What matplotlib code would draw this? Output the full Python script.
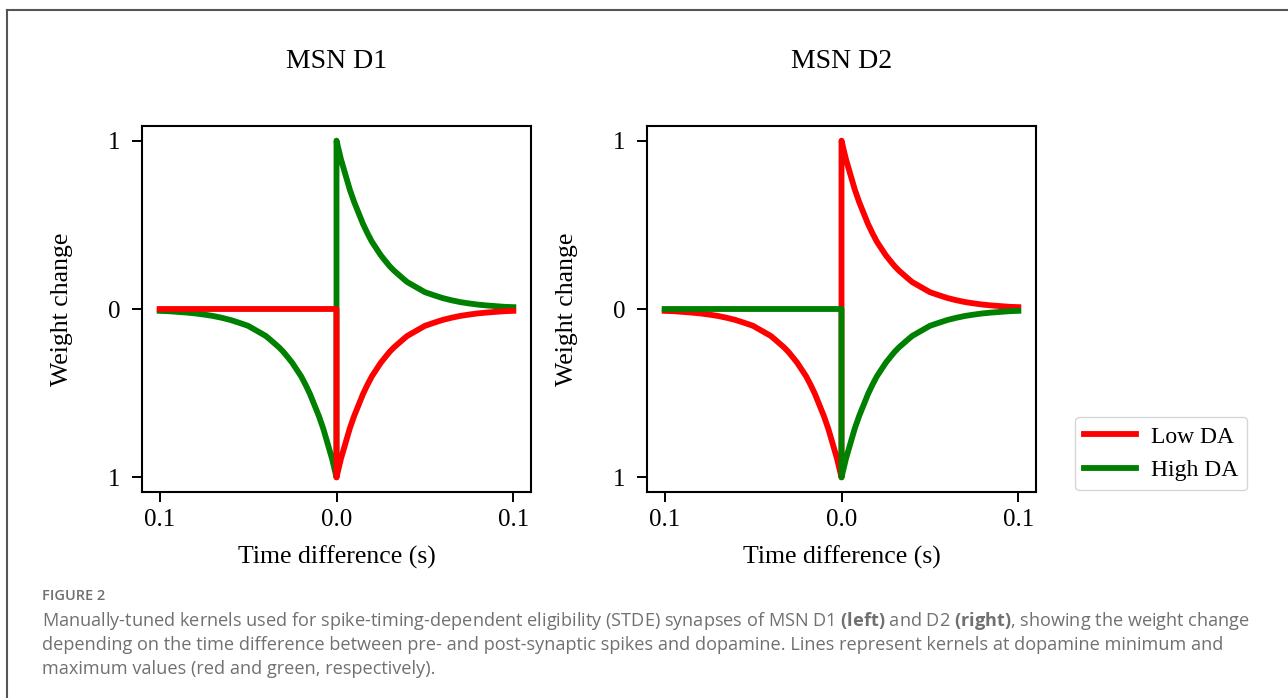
import matplotlib
matplotlib.use("Agg")
import matplotlib.pyplot as plt
from matplotlib.lines import Line2D

# kernel magnitude (t >= 0, seconds)
time_pos = [0.0, 0.0025, 0.005, 0.0075, 0.01, 0.0125, 0.015, 0.0175, 0.02,
            0.0225, 0.025, 0.0275, 0.03, 0.0325, 0.035, 0.0375, 0.04,
            0.0425, 0.045, 0.0475, 0.05, 0.055, 0.06, 0.065, 0.07, 0.075,
            0.08, 0.085, 0.09, 0.095, 0.1]
kernel_mag = [1.0, 0.89, 0.80, 0.71, 0.635, 0.57, 0.505, 0.45, 0.40,
              0.36, 0.32, 0.287, 0.255, 0.228, 0.205, 0.182, 0.16,
              0.145, 0.13, 0.115, 0.10, 0.082, 0.065, 0.052, 0.041, 0.033,
              0.026, 0.021, 0.017, 0.013, 0.011]
flat_time = [-0.1, 0.0]
flat_val = [0.0, 0.0]

panels = ["MSN D1", "MSN D2"]
series_names = ["Low DA", "High DA"]
series_colors = ["red", "green"]
xticks = [-0.1, 0.0, 0.1]
xtick_labels = ["0.1", "0.0", "0.1"]
yticks = [1, 0, -1]
ytick_labels = ["1", "0", "1"]

caption_head = "FIGURE 2"
caption_lines = [
    r"Manually-tuned kernels used for spike-timing-dependent eligibility (STDE) synapses of MSN D1 $\mathbf{(left)}$ and D2 $\mathbf{(right)}$, showing the weight change",
    "depending on the time difference between pre- and post-synaptic spikes and dopamine. Lines represent kernels at dopamine minimum and",
    "maximum values (red and green, respectively).",
]

# flat-then-negative kernel and negative-then-positive kernel
neg_time = [-t for t in reversed(time_pos)]
flat_x = flat_time + time_pos
flat_y = flat_val + [-k for k in kernel_mag]
cross_x = neg_time + time_pos
cross_y = [-k for k in reversed(kernel_mag)] + kernel_mag

plt.rcParams["font.family"] = "Liberation Serif"
plt.rcParams["mathtext.fontset"] = "custom"
plt.rcParams["mathtext.rm"] = "Open Sans"
plt.rcParams["mathtext.bf"] = "Open Sans:bold"

W, H = 1288, 698
fig = plt.figure(figsize=(W / 100, H / 100), dpi=100)

lw = 4.2
axes_left = [142, 647]
for i, name in enumerate(panels):
    ax = fig.add_axes([axes_left[i] / W, 1 - 492 / H, 389 / W, 366 / H])
    if i == 0:
        # D1: low DA is the flat one
        ax.plot(cross_x, cross_y, color=series_colors[1], lw=lw, zorder=2)
        ax.plot(flat_x, flat_y, color=series_colors[0], lw=lw, zorder=3)
    else:
        # D2: colours swap
        ax.plot(cross_x, cross_y, color=series_colors[0], lw=lw, zorder=2)
        ax.plot(flat_x, flat_y, color=series_colors[1], lw=lw, zorder=3)
    ax.set_xlim(-0.11, 0.11)
    ax.set_ylim(-1.087, 1.087)
    ax.set_xticks(xticks)
    ax.set_xticklabels(xtick_labels)
    ax.set_yticks(yticks)
    ax.set_yticklabels(ytick_labels)
    ax.tick_params(length=7.5, width=1.4, labelsize=18, pad=5)
    ax.tick_params(axis="y", pad=8)
    for s in ax.spines.values():
        s.set_linewidth(1.5)
    ax.set_title(name, fontsize=20, pad=42)
    cx = (axes_left[i] + 194.5) / W
    fig.text(cx, 1 - 557 / H, "Time difference (s)", fontsize=18.5,
             ha="center", va="center")
    fig.text((axes_left[i] - 80) / W, 1 - 309 / H, "Weight change",
             fontsize=18.5, rotation=90, ha="center", va="center")

handles = [Line2D([], [], color=c, lw=lw) for c in series_colors]
fig.legend(handles, series_names, loc="center left",
           bbox_to_anchor=(1075 / W, 1 - 453.5 / H), borderaxespad=0,
           fontsize=17, handlelength=2.2, handletextpad=0.6)

# outer frame of the published figure
fc = "#555555"
fig.add_artist(Line2D([7 / W, 7 / W], [0, 1 - 10 / H], color=fc, lw=1.5,
                      transform=fig.transFigure))
fig.add_artist(Line2D([7 / W, 1], [1 - 10 / H, 1 - 10 / H], color=fc, lw=1.5,
                      transform=fig.transFigure))

gray = "#707070"
fig.text(42 / W, 1 - 600 / H, caption_head, family="Open Sans",
         fontsize=10.5, weight="semibold", color=gray, va="baseline")
for j, line in enumerate(caption_lines):
    fig.text(42 / W, 1 - (626 + 24 * j) / H, line, family="Open Sans",
             fontsize=13.1, color=gray, va="baseline")

fig.savefig("out.png", dpi=100)
